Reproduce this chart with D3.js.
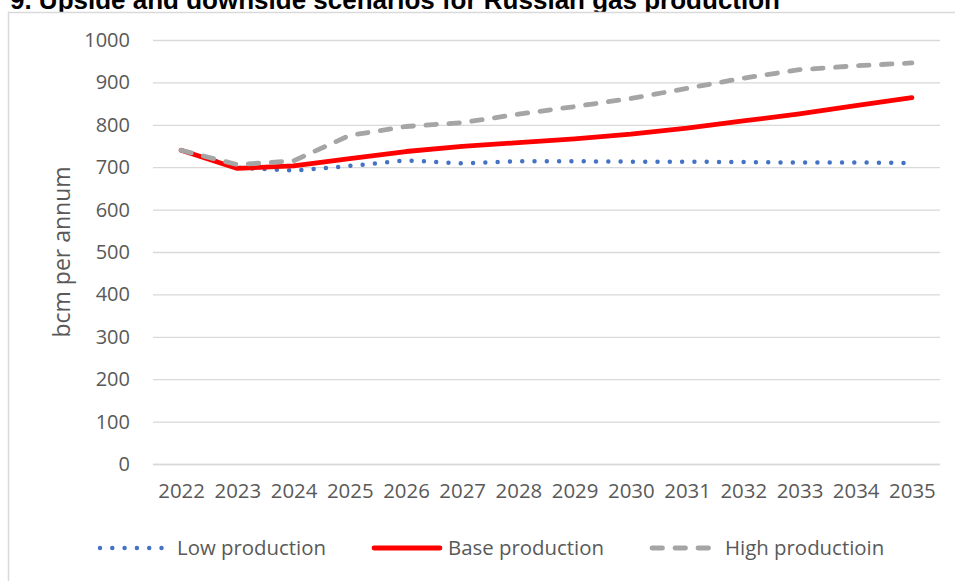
<!DOCTYPE html>
<html>
<head>
<meta charset="utf-8">
<script src="https://cdn.jsdelivr.net/npm/d3@7"></script>
<style>
  html, body { margin: 0; padding: 0; background: #ffffff; }
  svg { display: block; }
</style>
</head>
<body>
<svg id="chart" width="955" height="581"></svg>
<script>
// Russian gas production scenarios, bcm per annum
const years = ["2022","2023","2024","2025","2026","2027","2028","2029","2030","2031","2032","2033","2034","2035"];
const lowProduction  = [740, 699, 692, 703, 716, 709, 714, 714, 713, 713, 712, 711, 711, 710];
const baseProduction = [740, 697, 703, 720, 737, 749, 758, 767, 778, 792, 809, 826, 845, 864];
const highProduction = [740, 706, 715, 775, 796, 805, 825, 843, 862, 886, 910, 930, 939, 946];
const yTicks = [0, 100, 200, 300, 400, 500, 600, 700, 800, 900, 1000];
const seriesNames = ["Low production", "Base production", "High productioin"];
const titleText = "9. Upside and downside scenarios for Russian gas production";
const yAxisTitle = "bcm per annum";

const svg = d3.select("#chart");
const W = 955, H = 581;
const textColor = "#595959";
const gridColor = "#d9d9d9";
const labelFont = "'Open Sans', 'Noto Sans', sans-serif";

// Title (sits above the chart box)
svg.append("text")
  .attr("x", 780).attr("y", 9)
  .attr("text-anchor", "end")
  .attr("font-family", "'Liberation Sans', Arial, sans-serif")
  .attr("font-weight", "bold")
  .attr("font-size", 26)
  .attr("fill", "#000000")
  .text(titleText);

// Chart box
svg.append("rect")
  .attr("x", 8.5).attr("y", 12.5)
  .attr("width", W + 20).attr("height", H + 20)
  .attr("fill", "#ffffff")
  .attr("stroke", gridColor)
  .attr("stroke-width", 1.5);

const plot = { left: 153, right: 940, top: 40, bottom: 464 };

const x = d3.scalePoint()
  .domain(years)
  .range([plot.left, plot.right])
  .padding(0.5);

const y = d3.scaleLinear()
  .domain([0, 1000])
  .range([plot.bottom, plot.top]);

// Horizontal gridlines with value labels
const yAxis = d3.axisLeft(y)
  .tickValues(yTicks)
  .tickSize(-(plot.right - plot.left))
  .tickPadding(23)
  .tickFormat(d3.format("d"));

const gy = svg.append("g")
  .attr("transform", `translate(${plot.left},0)`)
  .call(yAxis);
gy.select(".domain").remove();
gy.selectAll(".tick line")
  .attr("stroke", gridColor)
  .attr("stroke-width", 1.3);
gy.selectAll(".tick text")
  .attr("font-family", labelFont)
  .attr("font-size", 20)
  .attr("fill", textColor);

// Category axis labels
const xAxis = d3.axisBottom(x).tickSize(0).tickPadding(20);
const gx = svg.append("g")
  .attr("transform", `translate(0,${plot.bottom})`)
  .call(xAxis);
gx.select(".domain")
  .attr("d", `M${plot.left},0.5H${plot.right}`)
  .attr("stroke", gridColor)
  .attr("stroke-width", 1.3);
gx.selectAll(".tick text")
  .attr("font-family", labelFont)
  .attr("font-size", 20.4)
  .attr("fill", textColor);

// Value axis title
svg.append("text")
  .attr("transform", `translate(70,${(plot.top + plot.bottom) / 2}) rotate(-90)`)
  .attr("text-anchor", "middle")
  .attr("font-family", labelFont)
  .attr("font-size", 23)
  .attr("fill", textColor)
  .text(yAxisTitle);

// Series styles
const series = [
  { name: seriesNames[0], values: lowProduction,  color: "#4472C4", width: 4.5, dash: "0,12.3", cap: "round" },
  { name: seriesNames[1], values: baseProduction, color: "#FF0000", width: 4.8, dash: null,     cap: "round" },
  { name: seriesNames[2], values: highProduction, color: "#A5A5A5", width: 4.8, dash: "10.5,12.5", cap: "round" }
];

const line = d3.line()
  .x((d, i) => x(years[i]))
  .y(d => y(d));

series.forEach(s => {
  svg.append("path")
    .datum(s.values)
    .attr("d", line)
    .attr("fill", "none")
    .attr("stroke", s.color)
    .attr("stroke-width", s.width)
    .attr("stroke-linecap", s.cap)
    .attr("stroke-linejoin", "round")
    .attr("stroke-dasharray", s.dash);
});

// Legend
const legendY = 548;
const legendStarts = [100, 372, 650];
series.forEach((s, i) => {
  const g = svg.append("g").attr("transform", `translate(${legendStarts[i]},${legendY})`);
  const sampleLen = i === 0 ? 62 : (i === 1 ? 68 : 62);
  g.append("line")
    .attr("x1", i === 0 ? 0 : 2).attr("x2", sampleLen)
    .attr("y1", 0).attr("y2", 0)
    .attr("stroke", s.color)
    .attr("stroke-width", s.width)
    .attr("stroke-linecap", s.cap)
    .attr("stroke-dasharray", s.dash);
  g.append("text")
    .attr("x", i === 0 ? 77 : (i === 1 ? 76 : 75))
    .attr("y", 0)
    .attr("dy", "0.35em")
    .attr("font-family", labelFont)
    .attr("font-size", 20.4)
    .attr("fill", textColor)
    .text(s.name);
});
</script>
</body>
</html>
